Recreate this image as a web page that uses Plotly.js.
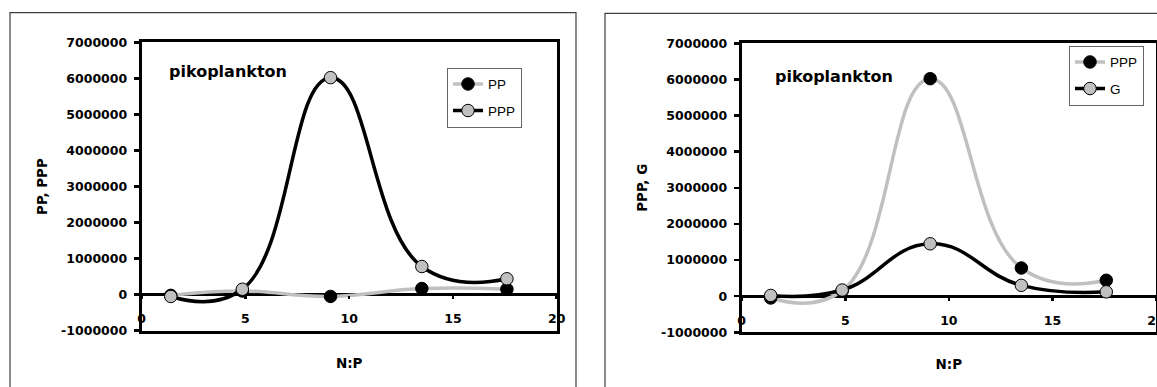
<!DOCTYPE html>
<html>
<head>
<meta charset="utf-8">
<script src="https://cdn.plot.ly/plotly-3.0.1.min.js"></script>
<style>html,body{margin:0;padding:0;background:#fff;}#chart{width:1157px;height:387px;}</style>
</head>
<body>
<div id="chart"></div>
<script>
// N:P ratio (x values)
const xNP = [1.4, 4.85, 9.1, 13.5, 17.6];
// left panel series
const PP  = [-20000, 100000, -50000, 170000, 150000];
const PPP = [-50000, 150000, 6020000, 780000, 440000];
// right panel series
const G   = [20000, 170000, 1450000, 300000, 120000];

const yTicks = [-1000000, 0, 1000000, 2000000, 3000000, 4000000, 5000000, 6000000, 7000000];
const xTicks = [0, 5, 10, 15, 20];
const panelLabel = 'pikoplankton';
const xTitle = 'N:P';
const yTitleLeft = 'PP, PPP';
const yTitleRight = 'PPP, G';

const GRAY = '#c0c0c0';
const W = 1157, H = 387;
const px = v => v / W;
const py = v => (H - v) / H;

const tickFont = {family: 'DejaVu Sans', size: 12.5, color: '#000', weight: 700};
const titleFont = {family: 'DejaVu Sans', size: 13.5, color: '#000', weight: 700};
const legFont = {family: 'Liberation Sans', size: 13.5, color: '#000'};
const SMOOTH = 1.3;

function grayBlack(y, name, xa, ya, leg) {
  return {x: xNP, y: y, name: name, xaxis: xa, yaxis: ya, legend: leg, legendgroup: name + leg,
    type: 'scatter', mode: 'lines+markers',
    line: {color: GRAY, width: 3.5, shape: 'spline', smoothing: SMOOTH},
    marker: {color: '#000', size: 12.5, line: {color: '#000', width: 1}}};
}
function blackGray(y, name, xa, ya, leg) {
  return {x: xNP, y: y, name: name, xaxis: xa, yaxis: ya, legend: leg, legendgroup: name + leg,
    type: 'scatter', mode: 'lines+markers',
    line: {color: '#000', width: 3.5, shape: 'spline', smoothing: SMOOTH},
    marker: {color: GRAY, size: 12.5, line: {color: '#000', width: 1}}};
}
// empty carriers so the tick-label axes (crossing at y = 0) are drawn
function carrier(xa, ya) {
  return {x: [], y: [], xaxis: xa, yaxis: ya, type: 'scatter', mode: 'markers', showlegend: false, hoverinfo: 'skip'};
}

const traces = [
  carrier('x3', 'y'),
  carrier('x4', 'y2'),
  grayBlack(PP, 'PP', 'x', 'y', 'legend'),
  blackGray(PPP, 'PPP', 'x', 'y', 'legend'),
  grayBlack(PPP, 'PPP', 'x2', 'y2', 'legend2'),
  blackGray(G, 'G', 'x2', 'y2', 'legend2')
];

function frameX(domain, anchor) {
  return {domain: domain, anchor: anchor, range: [0, 20], showline: true, mirror: true,
    linecolor: '#000', linewidth: 3, ticks: '', showticklabels: false, showgrid: false, zeroline: false,
    title: {text: xTitle, font: titleFont, standoff: 26}};
}
function labelX(overlay, pos) {
  return {overlaying: overlay, anchor: 'free', position: pos, range: [0, 20],
    tickvals: xTicks, ticktext: xTicks.map(String), ticks: 'outside', ticklen: 3, tickwidth: 2.5, tickcolor: '#000',
    showline: false, showgrid: false, zeroline: false, tickfont: tickFont, ticklabelstandoff: 9,
    ticklabeloverflow: 'allow'};
}
function frameY(domain, anchor, title) {
  return {domain: domain, anchor: anchor, range: [-1000000, 7000000], tickvals: yTicks,
    ticktext: yTicks.map(v => String(v)), showline: true, mirror: true, linecolor: '#000', linewidth: 3,
    ticks: 'outside', ticklen: 5, tickwidth: 2.5, tickcolor: '#000', showgrid: false,
    zeroline: true, zerolinecolor: '#000', zerolinewidth: 3, tickfont: tickFont, ticklabelstandoff: 4,
    title: {text: title, font: titleFont, standoff: 11}};
}

const layout = {
  width: W, height: H, margin: {l: 0, r: 0, t: 0, b: 0}, paper_bgcolor: '#fff', plot_bgcolor: '#fff',
  showlegend: true,
  xaxis: frameX([px(141.7), px(556.7)], 'y'),
  yaxis: frameY([py(330.7), py(42.3)], 'x', yTitleLeft),
  xaxis2: frameX([px(741.7), px(1156)], 'y2'),
  yaxis2: frameY([py(332.3), py(43.3)], 'x2', yTitleRight),
  xaxis3: labelX('x', py(294.7)),
  xaxis4: labelX('x2', py(296.7)),
  legend: {x: px(447), y: py(67.7), xanchor: 'left', yanchor: 'top', bgcolor: '#fff', bordercolor: '#666',
    borderwidth: 1, font: legFont, traceorder: 'grouped', tracegroupgap: 6},
  legend2: {x: px(1069), y: py(45.7), xanchor: 'left', yanchor: 'top', bgcolor: '#fff', bordercolor: '#666',
    borderwidth: 1, font: legFont, traceorder: 'grouped', tracegroupgap: 6},
  annotations: [
    {text: panelLabel, xref: 'paper', yref: 'paper', x: px(166.7), y: py(71.5), xanchor: 'left', yanchor: 'middle',
      showarrow: false, font: {family: 'DejaVu Sans', size: 16, color: '#000', weight: 700}},
    {text: panelLabel, xref: 'paper', yref: 'paper', x: px(773), y: py(77), xanchor: 'left', yanchor: 'middle',
      showarrow: false, font: {family: 'DejaVu Sans', size: 16, color: '#000', weight: 700}}
  ],
  shapes: [
    {type: 'rect', xref: 'paper', yref: 'paper', x0: px(10), x1: px(576), y0: -0.1, y1: py(12.7),
      line: {color: '#404040', width: 1.2}, layer: 'below'},
    {type: 'rect', xref: 'paper', yref: 'paper', x0: px(605), x1: 1.1, y0: -0.1, y1: py(13.3),
      line: {color: '#404040', width: 1.2}, layer: 'below'}
  ]
};

Plotly.newPlot('chart', traces, layout, {staticPlot: true, displayModeBar: false});
</script>
</body>
</html>
